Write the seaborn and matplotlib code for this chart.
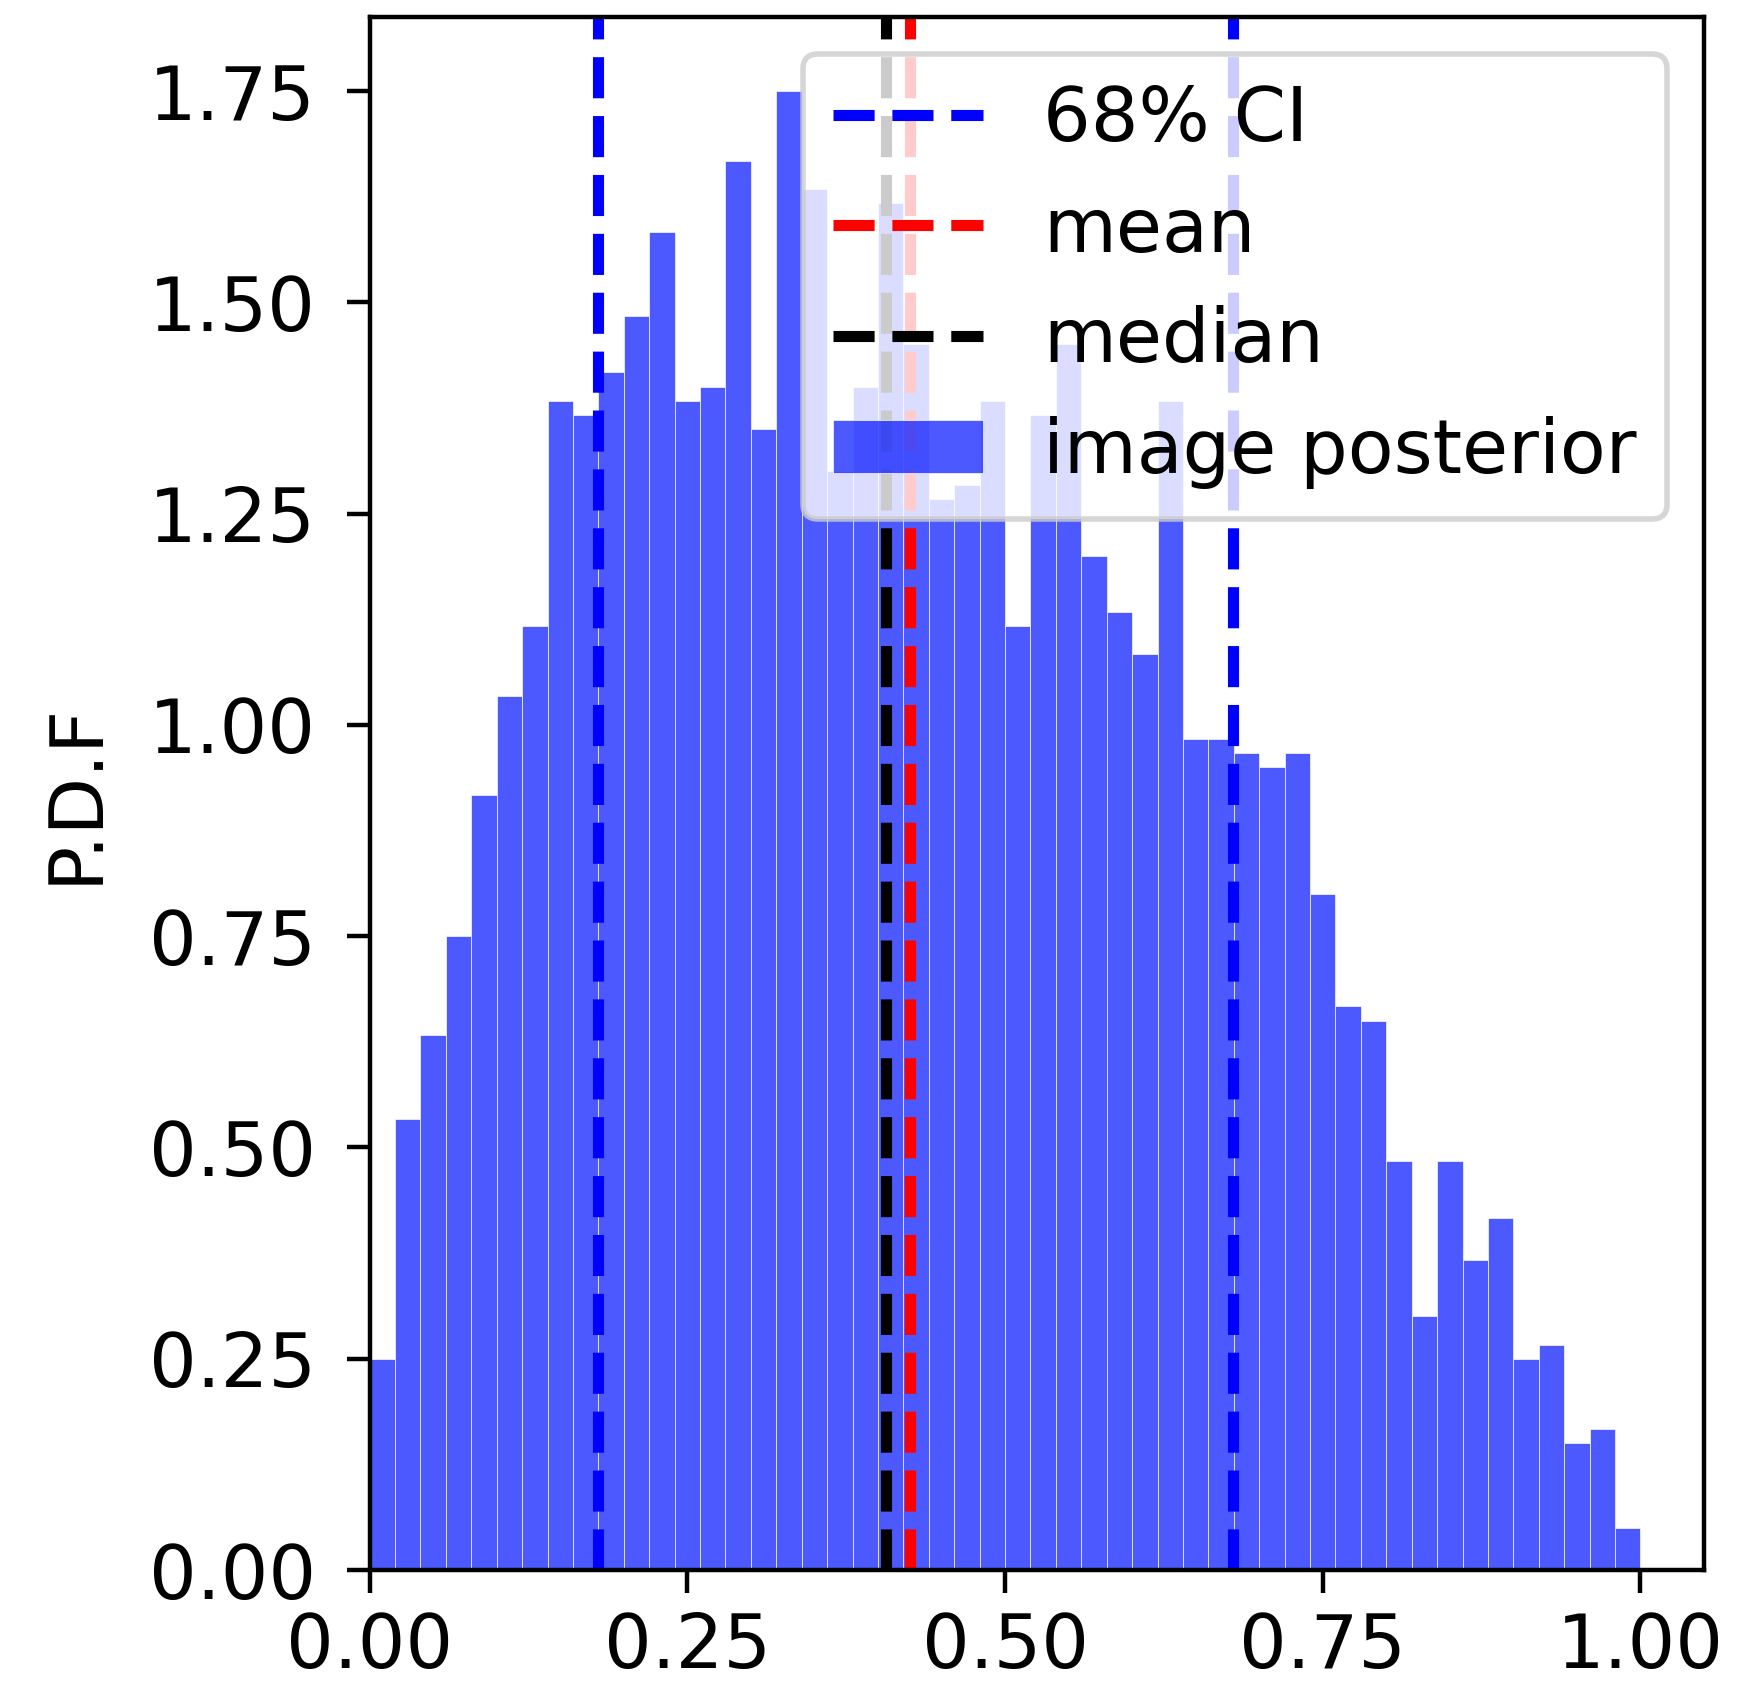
import numpy as np
import pandas as pd
import matplotlib
matplotlib.use("Agg")
import matplotlib.pyplot as plt
import seaborn as sns

# ---- data ----
n_bins = 50
bin_range = (0.0, 1.0)
counts = [15, 32, 38, 45, 55, 62, 67, 83, 82, 85,
          89, 95, 83, 84, 100, 81, 105, 98, 78, 84,
          97, 87, 76, 77, 83, 67, 82, 87, 72, 68,
          65, 83, 59, 59, 58, 57, 58, 48, 40, 39,
          29, 18, 29, 22, 25, 15, 16, 9, 10, 3]
ci_bounds = [0.1795, 0.679]
mean_value = 0.4255
median_value = 0.406

line_labels = ["68% CI", "mean", "median"]
hist_label = "image posterior"
y_label = "P.D.F"
x_ticks = [0.0, 0.25, 0.5, 0.75, 1.0]
y_ticks = [0.0, 0.25, 0.5, 0.75, 1.0, 1.25, 1.5, 1.75]

bin_edges = np.linspace(bin_range[0], bin_range[1], n_bins + 1)
bin_centers = 0.5 * (bin_edges[:-1] + bin_edges[1:])
df = pd.DataFrame({"x": bin_centers, "w": counts})

FS = 13.5
plt.rcParams["font.family"] = ["DejaVu Sans"]
plt.rcParams["font.size"] = FS
plt.rcParams["xtick.major.size"] = 4.2
plt.rcParams["ytick.major.size"] = 4.2
plt.rcParams["xtick.major.pad"] = 3.2
plt.rcParams["ytick.major.pad"] = 5.5

W, H, DPI = 1746, 1685, 400
fig = plt.figure(figsize=(W / DPI, H / DPI), dpi=DPI)
ax = fig.add_axes([369.6 / W, 1 - 1570 / H, (1704 - 369.6) / W, (1570 - 16.7) / H])

sns.histplot(data=df, x="x", weights="w", bins=n_bins, binrange=bin_range,
             stat="density", color=(0.0, 0.07, 1.0), alpha=0.7,
             edgecolor="white", linewidth=0.12, label=hist_label, ax=ax)

ax.axvline(ci_bounds[0], color="blue", ls="--", lw=2, label=line_labels[0])
ax.axvline(ci_bounds[1], color="blue", ls="--", lw=2)
ax.axvline(mean_value, color="red", ls="--", lw=2, label=line_labels[1])
ax.axvline(median_value, color="black", ls="--", lw=2, label=line_labels[2])

ax.set_xlim(0, 1.05)
ax.set_xticks(x_ticks)
ax.set_yticks(y_ticks)
ax.set_xlabel("")
ax.set_ylabel(y_label, fontsize=FS, labelpad=6.5)
ax.tick_params(labelsize=FS)

handles, labels = ax.get_legend_handles_labels()
order = [labels.index(l) for l in line_labels + [hist_label]]
ax.legend([handles[i] for i in order], [labels[i] for i in order],
          loc="upper right", fontsize=FS)

fig.savefig("out.png", dpi=DPI)
